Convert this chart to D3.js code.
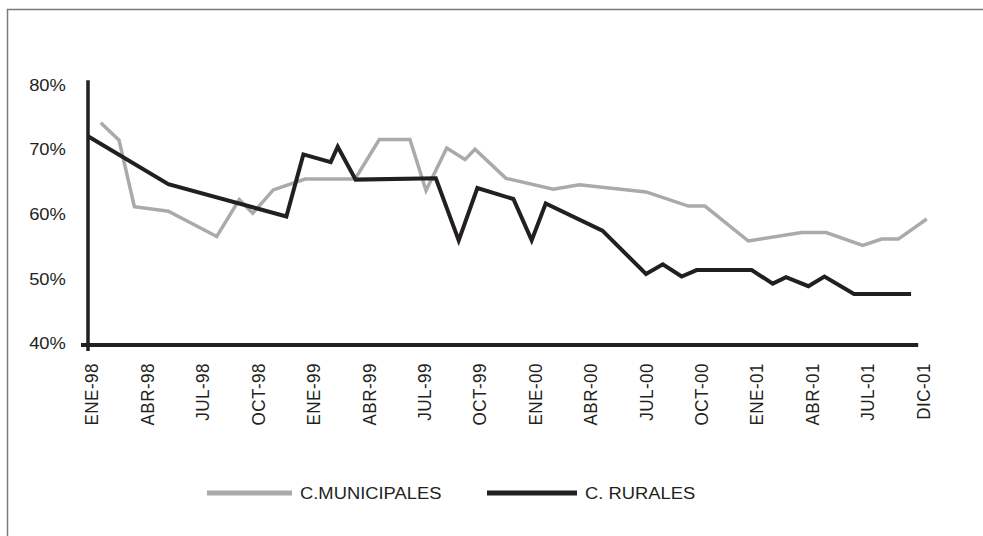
<!DOCTYPE html>
<html>
<head>
<meta charset="utf-8">
<script src="https://cdn.jsdelivr.net/npm/d3@7"></script>
<style>
  html, body { margin: 0; padding: 0; background: #fff; }
  svg { display: block; font-family: "Liberation Sans", Arial, sans-serif; }
</style>
</head>
<body>
<svg id="chart" width="983" height="536"></svg>
<script>
// posicion en el eje de categorias (0 = ENE-98, 3 = ABR-98 ... 45 = DIC-01)
const mesMunicipales = [0.69, 1.68, 2.51, 4.35, 6.97, 8.19, 8.92, 10.03, 11.75, 14.46, 15.77, 17.43, 18.3, 19.42, 20.41, 20.95, 22.63, 25.19, 26.6, 30.21, 32.5, 33.4, 35.75, 38.64, 39.96, 41.94, 42.97, 43.87, 45.41];
const valMunicipales = [74.4, 71.7, 61.4, 60.7, 56.8, 62.5, 60.4, 64.0, 65.7, 65.7, 71.8, 71.8, 63.9, 70.5, 68.7, 70.3, 65.8, 64.1, 64.8, 63.7, 61.5, 61.5, 56.1, 57.4, 57.4, 55.4, 56.4, 56.4, 59.5];

const mesRurales = [0, 4.35, 10.74, 11.66, 13.14, 13.52, 14.49, 18.83, 20.07, 21.08, 23.03, 24.02, 24.78, 27.85, 30.21, 31.12, 32.14, 32.95, 35.93, 37.07, 37.79, 39.0, 39.87, 41.47, 44.56];
const valRurales = [72.3, 64.9, 59.9, 69.5, 68.3, 70.7, 65.6, 65.8, 56.2, 64.3, 62.6, 56.2, 61.9, 57.7, 51.0, 52.5, 50.6, 51.6, 51.6, 49.5, 50.5, 49.1, 50.6, 47.9, 47.9];

const etiquetasX = ["ENE-98", "ABR-98", "JUL-98", "OCT-98", "ENE-99", "ABR-99", "JUL-99", "OCT-99", "ENE-00", "ABR-00", "JUL-00", "OCT-00", "ENE-01", "ABR-01", "JUL-01", "DIC-01"];
const ticksY = [40, 50, 60, 70, 80];

const series = [
  { name: "C.MUNICIPALES", color: "#a9aaac", width: 3.5, x: mesMunicipales, y: valMunicipales },
  { name: "C. RURALES", color: "#231f20", width: 4, x: mesRurales, y: valRurales }
];

const stretch = 1.08; // el texto del original esta algo ensanchado
const svg = d3.select("#chart");

// marco
svg.append("path")
  .attr("d", "M7.5,540V9.5H990")
  .attr("fill", "none")
  .attr("stroke", "#7a7a7a")
  .attr("stroke-width", 1.5);

const x = d3.scaleLinear().domain([0, 45]).range([88, 919.2]);
const y = d3.scaleLinear().domain([40, 80]).range([345, 86.6]);

//--EJE Y
const gy = svg.append("g")
  .attr("transform", `translate(${x(0)},0)`)
  .call(d3.axisLeft(y).tickValues(ticksY).tickFormat((d) => d + "%").tickSize(0).tickPadding(20.5));
gy.select(".domain").remove();
gy.selectAll("text")
  .attr("dy", "0.22em")
  .attr("transform", `scale(${stretch},1)`)
  .style("font-size", "17px")
  .style("fill", "#231f20");

//--EJE X
const gx = svg.append("g")
  .attr("transform", `translate(0,${y(40)})`)
  .call(d3.axisBottom(x).tickValues(d3.range(0, 46, 3)).tickFormat((d) => etiquetasX[d / 3]).tickSize(0));
gx.select(".domain").remove();
gx.selectAll("text")
  .attr("x", -18)
  .attr("y", 0)
  .attr("dy", 9.2)
  .attr("text-anchor", "end")
  .attr("transform", `scale(${stretch},1) rotate(-90)`)
  .style("font-size", "17px")
  .style("letter-spacing", "0.5px")
  .style("fill", "#231f20");

// lineas de los ejes (se cruzan en la esquina)
svg.append("line")
  .attr("x1", x(0)).attr("x2", x(0))
  .attr("y1", y(81)).attr("y2", y(40) + 6)
  .attr("stroke", "#231f20").attr("stroke-width", 3.5);
svg.append("line")
  .attr("x1", x(0) - 7).attr("x2", x(45) - 1)
  .attr("y1", y(40)).attr("y2", y(40))
  .attr("stroke", "#231f20").attr("stroke-width", 4);

//--SERIES
const line = d3.line()
  .x((d) => x(d[0]))
  .y((d) => y(d[1]));

svg.append("g")
  .selectAll("path")
  .data(series)
  .enter()
  .append("path")
  .attr("d", (s) => line(s.x.map((m, i) => [m, s.y[i]])))
  .attr("fill", "none")
  .attr("stroke", (s) => s.color)
  .attr("stroke-width", (s) => s.width)
  .attr("stroke-linejoin", "miter");

//--LEYENDA
const legendPos = [{ x1: 207, x2: 292, tx: 300 }, { x1: 487, x2: 577, tx: 585 }];
const lg = svg.append("g").selectAll("g").data(series).enter().append("g");
lg.append("line")
  .attr("x1", (_, i) => legendPos[i].x1)
  .attr("x2", (_, i) => legendPos[i].x2)
  .attr("y1", 493).attr("y2", 493)
  .attr("stroke", (s) => s.color)
  .attr("stroke-width", 5);
lg.append("text")
  .attr("transform", (_, i) => `translate(${legendPos[i].tx},498.5) scale(${stretch},1)`)
  .style("font-size", "17px")
  .style("fill", "#231f20")
  .text((s) => s.name);
</script>
</body>
</html>
